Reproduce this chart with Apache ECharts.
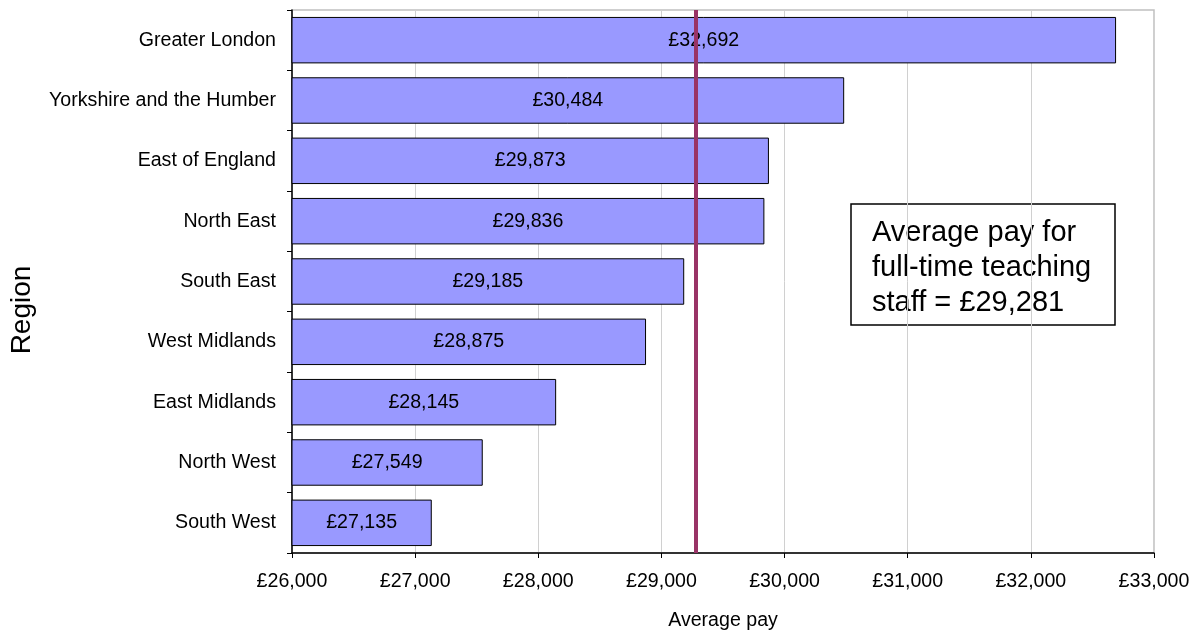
<!DOCTYPE html>
<html>
<head>
<meta charset="utf-8">
<script src="https://cdn.jsdelivr.net/npm/echarts@6/dist/echarts.min.js"></script>
<style>
  html, body { margin: 0; padding: 0; background: #fff; }
  #chart { width: 1202px; height: 635px; }
</style>
</head>
<body>
<div id="chart"></div>
<script>
// Regions, ordered from highest to lowest average pay
const regions = [
  'Greater London', 'Yorkshire and the Humber', 'East of England', 'North East',
  'South East', 'West Midlands', 'East Midlands', 'North West', 'South West'
];
const averagePay = [32692, 30484, 29873, 29836, 29185, 28875, 28145, 27549, 27135];

// Overall average for full-time teaching staff
const overallAverage = 29281;

// Value axis range and step
const axisMin = 26000;
const axisMax = 33000;
const axisStep = 1000;

const FONT = '"Liberation Sans", Arial, sans-serif';
const FS = 19.6;

function pounds(v) {
  return '£' + String(Math.round(v)).replace(/\B(?=(\d{3})+(?!\d))/g, ',');
}

const chart = echarts.init(document.getElementById('chart'), null, { renderer: 'canvas' });

chart.setOption({
  backgroundColor: '#ffffff',
  animation: false,
  textStyle: { fontFamily: FONT },
  grid: {
    left: 292, right: 48, top: 10, bottom: 82,
    containLabel: false,
    outerBoundsMode: 'none',
    show: true, borderColor: '#c0c0c0', borderWidth: 1.5, backgroundColor: 'transparent'
  },
  xAxis: {
    type: 'value',
    min: axisMin, max: axisMax, interval: axisStep,
    name: 'Average pay',
    nameLocation: 'middle',
    nameGap: 58,
    nameTextStyle: { fontFamily: FONT, fontSize: FS, color: '#000' },
    axisLine: { show: true, lineStyle: { color: '#000', width: 1.5 } },
    axisTick: { show: true, length: 5, lineStyle: { color: '#000' } },
    axisLabel: { formatter: pounds, fontFamily: FONT, fontSize: FS, color: '#000', margin: 19 },
    splitLine: { show: true, lineStyle: { color: '#d0d0d0', width: 1 } }
  },
  yAxis: {
    type: 'category',
    data: regions,
    inverse: true,
    axisLine: { show: true, lineStyle: { color: '#000', width: 1.5 } },
    axisTick: { show: true, length: 5, inside: false, lineStyle: { color: '#000' } },
    axisLabel: { fontFamily: FONT, fontSize: FS, color: '#000', margin: 16 },
    splitLine: { show: false }
  },
  series: [{
    type: 'bar',
    data: averagePay,
    barCategoryGap: '23%',
    itemStyle: { color: '#9999ff', borderColor: '#000', borderWidth: 1 },
    label: {
      show: true,
      position: 'inside',
      formatter: p => pounds(p.value),
      fontFamily: FONT, fontSize: FS, color: '#000'
    },
    markLine: {
      silent: true,
      symbol: 'none',
      label: { show: false },
      lineStyle: { color: '#993366', width: 4, type: 'solid' },
      data: [{ xAxis: overallAverage }]
    }
  }],
  graphic: [
    {
      type: 'text',
      x: 22,
      y: 310,
      rotation: Math.PI / 2,
      style: {
        text: 'Region',
        fontFamily: FONT, fontSize: 28, fill: '#000',
        align: 'center', verticalAlign: 'middle'
      }
    },
    {
      type: 'group',
      x: 851,
      y: 204,
      children: [
        {
          type: 'rect',
          shape: { x: 0, y: 0, width: 264, height: 121 },
          style: { fill: '#fff', stroke: '#000', lineWidth: 1.5 }
        },
        {
          type: 'text',
          x: 21, y: 11,
          style: {
            text: 'Average pay for\nfull-time teaching\nstaff = ' + pounds(overallAverage),
            fontFamily: FONT, fontSize: 29, lineHeight: 35, fill: '#000'
          }
        }
      ]
    }
  ]
});
</script>
</body>
</html>
